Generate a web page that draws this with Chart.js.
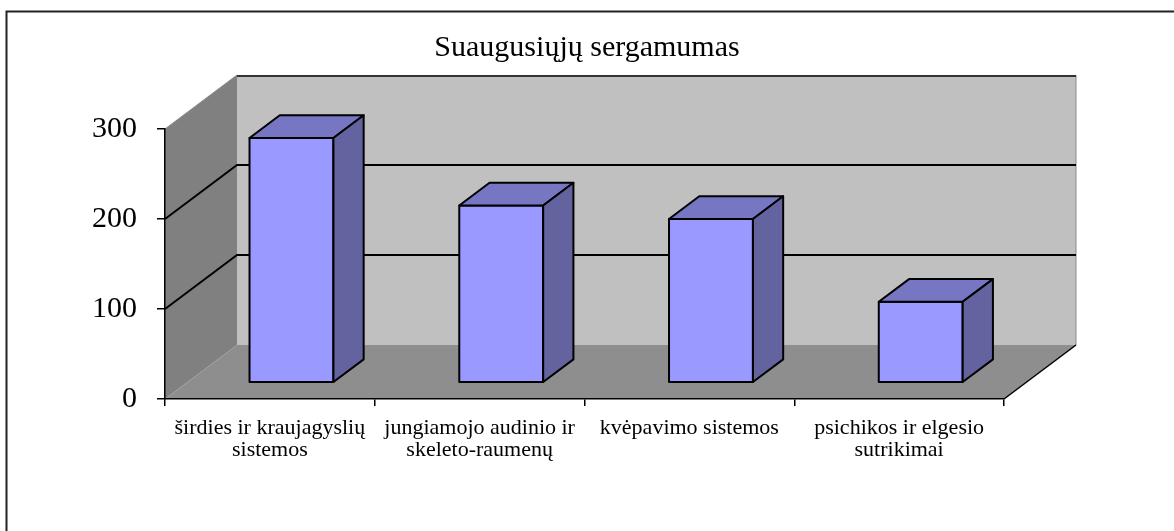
<!DOCTYPE html>
<html>
<head>
<meta charset="utf-8">
<script src="https://cdn.jsdelivr.net/npm/chart.js@4"></script>
<style>
  html, body { margin: 0; padding: 0; background: #fff; }
  #wrap { width: 1174px; height: 531px; }
</style>
</head>
<body>
<div id="wrap"><canvas id="chart-illness" width="1174" height="531"></canvas></div>
<script>
var categories = [
    ["širdies ir kraujagyslių", "sistemos"],
    ["jungiamojo audinio ir", "skeleto-raumenų"],
    "kvėpavimo sistemos",
    ["psichikos ir elgesio", "sutrikimai"],
];
var values = [272, 197, 182, 90];
var yTicks = [0, 100, 200, 300];

var serif = "'Times New Roman', 'Liberation Serif', serif";

// depth of the 3d box (back plane offset) and bar position inside it
var DX = 72, DY = -54;
var BAR_FRONT = 0.3, BAR_BACK = 0.72;

function poly(ctx, pts, fill, stroke, lw) {
    ctx.beginPath();
    ctx.moveTo(pts[0][0], pts[0][1]);
    for (var i = 1; i < pts.length; i++) ctx.lineTo(pts[i][0], pts[i][1]);
    ctx.closePath();
    if (fill) { ctx.fillStyle = fill; ctx.fill(); }
    if (stroke) { ctx.strokeStyle = stroke; ctx.lineWidth = lw || 1; ctx.stroke(); }
}

var box3d = {
    id: 'box3d',
    beforeDraw: function(chart) {
        var ctx = chart.ctx, a = chart.chartArea, y = chart.scales.y;
        var L = a.left, R = a.right, T = a.top, B = a.bottom;
        ctx.save();
        // back wall
        poly(ctx, [[L + DX, T + DY], [R + DX, T + DY], [R + DX, B + DY], [L + DX, B + DY]], '#c0c0c0');
        // left wall
        poly(ctx, [[L, T], [L + DX, T + DY], [L + DX, B + DY], [L, B]], '#808080');
        // floor
        poly(ctx, [[L, B], [L + DX, B + DY], [R + DX, B + DY], [R, B]], '#8e8e8e');
        // wall edges
        ctx.lineWidth = 1;
        ctx.strokeStyle = '#8a8a8a';
        ctx.beginPath();
        ctx.moveTo(L, T); ctx.lineTo(L + DX, T + DY);
        ctx.moveTo(R + DX, T + DY); ctx.lineTo(R + DX, B + DY);
        ctx.stroke();
        ctx.strokeStyle = '#333';
        ctx.lineWidth = 2;
        ctx.beginPath();
        ctx.moveTo(L + DX, T + DY + 1); ctx.lineTo(R + DX, T + DY + 1);
        ctx.stroke();
        // grid lines on walls
        ctx.strokeStyle = '#000';
        ctx.lineWidth = 2;
        yTicks.forEach(function(v) {
            if (v === yTicks[0] || v === yTicks[yTicks.length - 1]) return;
            var py = y.getPixelForValue(v);
            ctx.beginPath();
            ctx.moveTo(L, py);
            ctx.lineTo(L + DX, py + DY);
            ctx.lineTo(R + DX, py + DY);
            ctx.stroke();
        });
        // floor right edge
        ctx.lineWidth = 1.5;
        ctx.beginPath();
        ctx.moveTo(R, B); ctx.lineTo(R + DX, B + DY);
        ctx.stroke();
        ctx.restore();
    },
    afterDatasetsDraw: function(chart) {
        var ctx = chart.ctx;
        var fx = DX * BAR_FRONT, fy = DY * BAR_FRONT;
        var bx = DX * BAR_BACK, by = DY * BAR_BACK;
        ctx.save();
        ctx.lineJoin = 'round';
        chart.getDatasetMeta(0).data.forEach(function(bar) {
            var l = bar.x - bar.width / 2, r = bar.x + bar.width / 2;
            var t = bar.y, b = bar.base;
            // front face
            poly(ctx, [[l + fx, t + fy], [r + fx, t + fy], [r + fx, b + fy], [l + fx, b + fy]], '#9999ff', '#000', 2);
            // top face
            poly(ctx, [[l + fx, t + fy], [l + bx, t + by], [r + bx, t + by], [r + fx, t + fy]], '#7676c2', '#000', 2);
            // right side
            poly(ctx, [[r + fx, t + fy], [r + bx, t + by], [r + bx, b + by], [r + fx, b + fy]], '#63639f', '#000', 2);
        });
        ctx.restore();
    },
    afterDraw: function(chart) {
        var ctx = chart.ctx;
        ctx.save();
        ctx.strokeStyle = '#222';
        ctx.lineWidth = 2;
        ctx.beginPath();
        ctx.moveTo(6.5, chart.height);
        ctx.lineTo(6.5, 11.5);
        ctx.lineTo(chart.width, 11.5);
        ctx.stroke();
        ctx.restore();
    }
};

var chartI = document.getElementById("chart-illness");
var chartIllness = new Chart(chartI, {
    type: 'bar',
    plugins: [box3d],
    options: {
        responsive: false,
        animation: false,
        layout: {
            padding: 0
        },
        plugins: {
            legend: { display: false },
            tooltip: { enabled: false },
            title: {
                display: true,
                text: 'Suaugusiųjų sergamumas',
                color: '#000',
                font: { family: serif, size: 30, weight: 'normal' },
                padding: { top: 30, bottom: 63 }
            }
        },
        scales: {
            x: {
                offset: true,
                afterFit: function(scale) { scale.height = 132; },
                grid: {
                    offset: true,
                    drawOnChartArea: false,
                    color: '#000',
                    tickLength: 7,
                    lineWidth: 1.5
                },
                border: { color: '#000', width: 1.5 },
                ticks: {
                    color: '#000',
                    font: { family: serif, size: 22, lineHeight: 1.0 },
                    padding: 11,
                    maxRotation: 0,
                    autoSkip: false
                }
            },
            y: {
                min: 0,
                max: 300,
                afterFit: function(scale) { scale.width = 165; },
                grid: {
                    drawOnChartArea: false,
                    color: '#000',
                    tickLength: 8,
                    lineWidth: 1.5
                },
                border: { color: '#000', width: 1.5 },
                ticks: {
                    stepSize: 100,
                    color: '#000',
                    font: { family: serif, size: 30 },
                    padding: 20
                }
            },
            // empty right-hand axis, only keeps the space right of the floor
            yRight: {
                position: 'right',
                afterFit: function(scale) { scale.width = 170; },
                grid: { display: false },
                border: { display: false },
                ticks: { display: false }
            }
        }
    },
    data: {
        labels: categories,
        datasets: [{
            data: values,
            backgroundColor: 'rgba(0,0,0,0)',
            borderWidth: 0,
            barPercentage: 0.4,
            categoryPercentage: 1
        }]
    }
});
</script>
</body>
</html>
